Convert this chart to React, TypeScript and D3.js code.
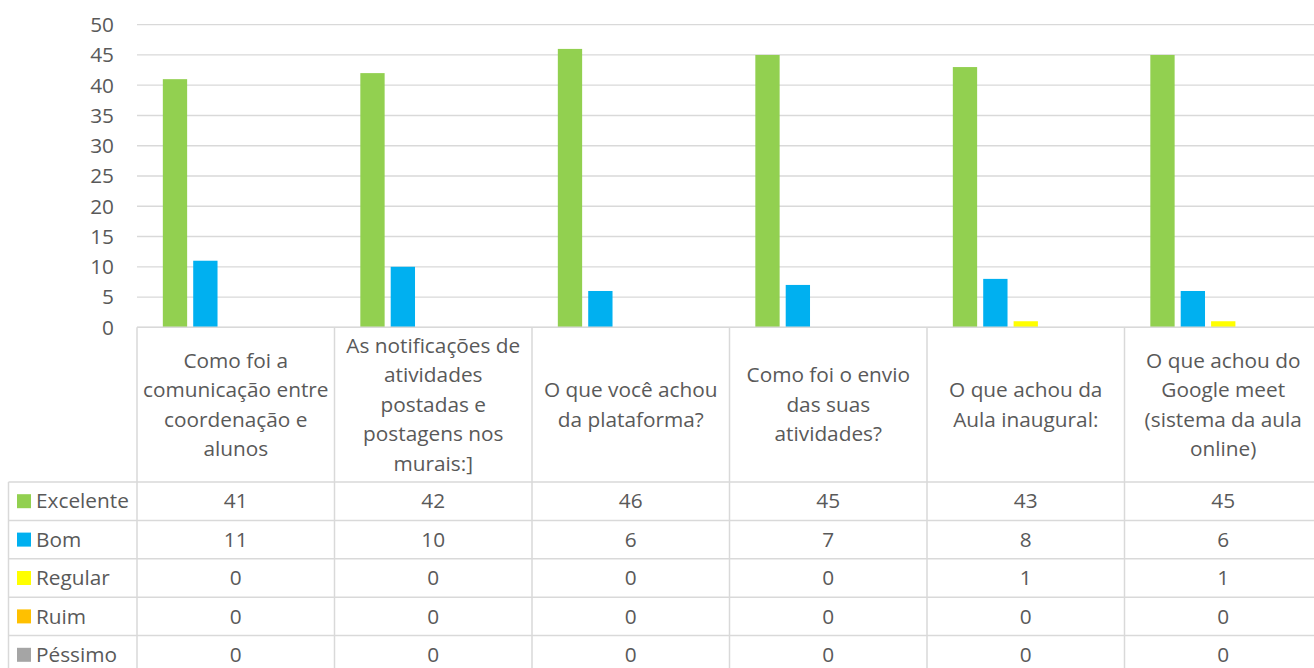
import React from "react";
import * as d3 from "d3";

const categories: string[][] = [
  ["Como foi a", "comunicação entre", "coordenação e", "alunos"],
  ["As notificações de", "atividades", "postadas e", "postagens nos", "murais:]"],
  ["O que você achou", "da plataforma?"],
  ["Como foi o envio", "das suas", "atividades?"],
  ["O que achou da", "Aula inaugural:"],
  ["O que achou do", "Google meet", "(sistema da aula", "online)"],
];

const seriesNames = ["Excelente", "Bom", "Regular", "Ruim", "Péssimo"];
const excelente = [41, 42, 46, 45, 43, 45];
const bom = [11, 10, 6, 7, 8, 6];
const regular = [0, 0, 0, 0, 1, 1];
const ruim = [0, 0, 0, 0, 0, 0];
const pessimo = [0, 0, 0, 0, 0, 0];
const seriesValues = [excelente, bom, regular, ruim, pessimo];
const seriesColors = ["#92D050", "#00B0F0", "#FFFF00", "#FFC000", "#A5A5A5"];
const yTicks = [0, 5, 10, 15, 20, 25, 30, 35, 40, 45, 50];

const W = 1314;
const H = 668;
const plotLeft = 137;
const plotRight = 1322;
const plotTop = 24.7;
const plotBottom = 327.3;
const headerBottom = 482;
const rowH = 38.4;
const tableLeft = 8.5;
const FONT = "'Open Sans', sans-serif";
const FS = 20.8;
const TXT = "#595959";
const GRID = "#D9D9D9";

export default function App() {
  const x = d3
    .scaleBand<number>()
    .domain(d3.range(categories.length))
    .range([plotLeft, plotRight])
    .padding(0);
  const inner = d3
    .scaleBand<number>()
    .domain(d3.range(seriesNames.length))
    .range([0, x.bandwidth()])
    .paddingInner(0.2)
    .paddingOuter(0.85);
  const y = d3.scaleLinear().domain([0, 50]).range([plotBottom, plotTop]);
  const lineH = 29.5;
  const headerMid = (plotBottom + headerBottom) / 2;

  return (
    <svg
      width={W}
      height={H}
      style={{ position: "absolute", left: 0, top: 0, display: "block", background: "#fff" }}
      fontFamily={FONT}
    >
      {yTicks.map((t) => (
        <line key={"g" + t} x1={plotLeft} x2={plotRight} y1={y(t)} y2={y(t)} stroke={GRID} strokeWidth={1.3} />
      ))}
      {yTicks.map((t) => (
        <text key={"yl" + t} x={114} y={y(t)} dy="0.35em" textAnchor="end" fontSize={FS} fill={TXT}>
          {t}
        </text>
      ))}
      {seriesValues.map((vals, si) =>
        vals.map((v, ci) =>
          v > 0 ? (
            <rect
              key={`b${si}-${ci}`}
              x={(x(ci) as number) + (inner(si) as number)}
              y={y(v)}
              width={inner.bandwidth()}
              height={y(0) - y(v)}
              fill={seriesColors[si]}
            />
          ) : null
        )
      )}
      <line x1={plotLeft} x2={plotRight} y1={plotBottom} y2={plotBottom} stroke={GRID} strokeWidth={1.5} />
      {d3.range(categories.length + 1).map((i) => {
        const xx = i < categories.length ? (x(i) as number) : plotRight;
        return (
          <line key={"v" + i} x1={xx} x2={xx} y1={plotBottom} y2={H} stroke={GRID} strokeWidth={1.5} />
        );
      })}
      <line x1={tableLeft} x2={tableLeft} y1={headerBottom} y2={H} stroke={GRID} strokeWidth={1.5} />
      {d3.range(seriesNames.length).map((r) => (
        <line
          key={"h" + r}
          x1={tableLeft}
          x2={plotRight}
          y1={headerBottom + r * rowH}
          y2={headerBottom + r * rowH}
          stroke={GRID}
          strokeWidth={1.5}
        />
      ))}
      {categories.map((lines, ci) => {
        const cx = (x(ci) as number) + x.bandwidth() / 2;
        const start = headerMid - ((lines.length - 1) * lineH) / 2;
        return (
          <text key={"c" + ci} textAnchor="middle" fontSize={FS} fill={TXT}>
            {lines.map((l, li) => (
              <tspan key={li} x={cx} y={start + li * lineH} dy="0.35em">
                {l}
              </tspan>
            ))}
          </text>
        );
      })}
      {seriesNames.map((name, si) => {
        const cy = headerBottom + si * rowH + rowH / 2;
        return (
          <g key={"r" + si}>
            <rect x={17} y={cy - 7} width={14} height={14} fill={seriesColors[si]} />
            <text x={36} y={cy} dy="0.35em" fontSize={FS} fill={TXT}>
              {name}
            </text>
            {seriesValues[si].map((v, ci) => (
              <text
                key={ci}
                x={(x(ci) as number) + x.bandwidth() / 2}
                y={cy}
                dy="0.35em"
                textAnchor="middle"
                fontSize={FS}
                fill={TXT}
              >
                {v}
              </text>
            ))}
          </g>
        );
      })}
    </svg>
  );
}
